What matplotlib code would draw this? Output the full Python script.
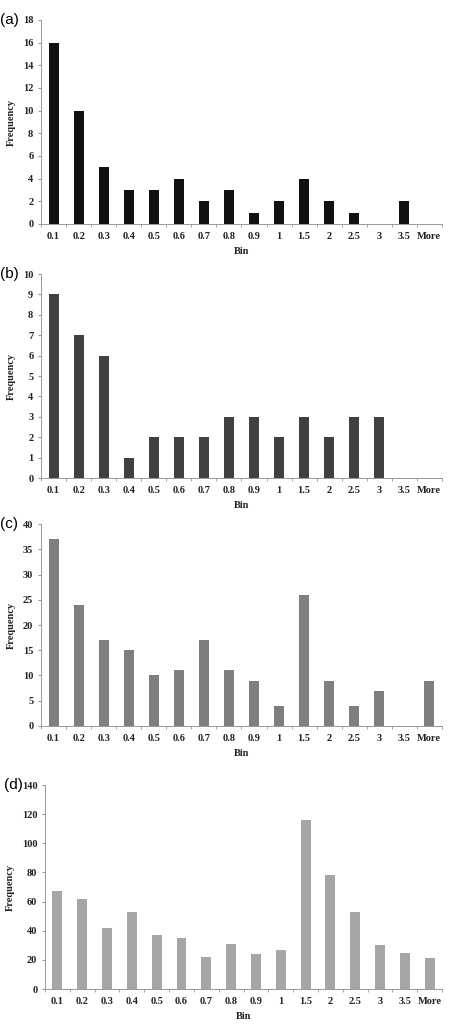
import numpy as np
import matplotlib
matplotlib.use("Agg")
import matplotlib.pyplot as plt

bins = ["0.1", "0.2", "0.3", "0.4", "0.5", "0.6", "0.7", "0.8", "0.9", "1",
        "1.5", "2", "2.5", "3", "3.5", "More"]

freq_a = [16, 10, 5, 3, 3, 4, 2, 3, 1, 2, 4, 2, 1, 0, 2, 0]
freq_b = [9, 7, 6, 1, 2, 2, 2, 3, 3, 2, 3, 2, 3, 3, 0, 0]
freq_c = [37, 24, 17, 15, 10, 11, 17, 11, 9, 4, 26, 9, 4, 7, 0, 9]
freq_d = [67, 62, 42, 53, 37, 35, 22, 31, 24, 27, 116, 78, 53, 30, 25, 21]

panels = [
    ("(a)", freq_a, "#111111", 18, 2, [0.0905, 0.7834, 0.885, 0.1973]),
    ("(b)", freq_b, "#404040", 10, 1, [0.0905, 0.5377, 0.885, 0.1973]),
    ("(c)", freq_c, "#7f7f7f", 40, 5, [0.0905, 0.2979, 0.885, 0.1953]),
    ("(d)", freq_d, "#a6a6a6", 140, 20, [0.0993, 0.0435, 0.8767, 0.1973]),
]

plt.rcParams['font.family'] = ['Liberation Serif', 'DejaVu Serif']

fig = plt.figure(figsize=(4.53, 10.34), dpi=100)

x = np.arange(len(bins))
for label, vals, color, ymax, step, rect in panels:
    ax = fig.add_axes(rect)
    ax.bar(x, vals, width=0.4, color=color)
    ax.set_xlim(-0.5, len(bins) - 0.5)
    ax.set_ylim(0, ymax)
    ax.set_yticks(np.arange(0, ymax + step, step))
    ax.set_xticks(x)
    ax.set_xticklabels(bins)
    ax.set_xticks(np.arange(-0.5, len(bins), 1), minor=True)
    ax.tick_params(axis='x', which='major', length=0, pad=6)
    ax.tick_params(axis='x', which='minor', length=2.5, color='#999999')
    ax.tick_params(axis='y', length=2.5, color='#999999', pad=3)
    for t in ax.get_xticklabels() + ax.get_yticklabels():
        t.set_fontsize(7.5)
        t.set_fontweight('bold')
        t.set_color('#222222')
    ax.spines['top'].set_visible(False)
    ax.spines['right'].set_visible(False)
    ax.spines['left'].set_color('#999999')
    ax.spines['bottom'].set_color('#999999')
    ax.spines['left'].set_linewidth(0.7)
    ax.spines['bottom'].set_linewidth(0.7)
    ax.set_xlabel("Bin", fontsize=7.5, fontweight='bold', color='#222222', labelpad=4)
    ax.set_ylabel("Frequency", fontsize=7.5, fontweight='bold', color='#222222', labelpad=5)
    ax.text(-0.102, 1.0, label, transform=ax.transAxes, fontsize=11,
            family=['Liberation Sans', 'DejaVu Sans'], ha='left', va='center')

fig.savefig("out.png", dpi=100, facecolor='white')
